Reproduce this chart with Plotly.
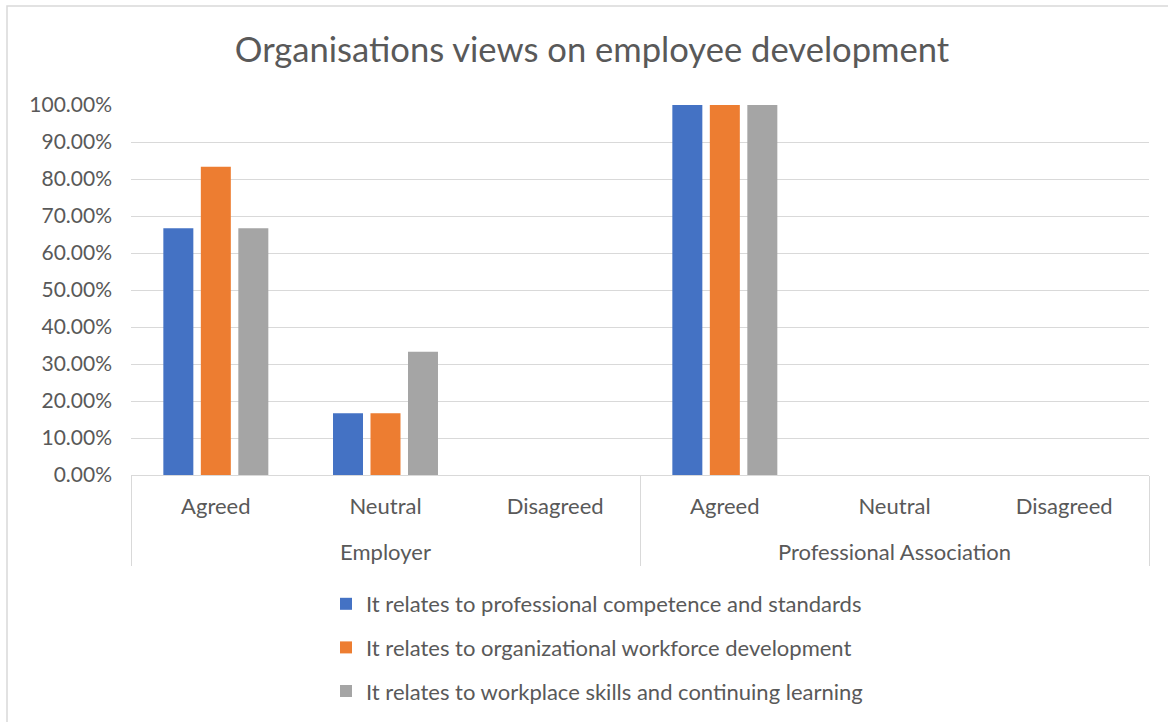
import plotly.graph_objects as go

# Response data: share of organisations per view, by organisation type
org_types = ["Employer"] * 3 + ["Professional Association"] * 3
responses = ["Agreed", "Neutral", "Disagreed"] * 2

series_names = [
    "It relates to professional competence and standards",
    "It relates to organizational workforce development",
    "It relates to workplace skills and continuing learning",
]
competence = [0.6667, 0.1667, 0.0, 1.0, 0.0, 0.0]
workforce = [0.8333, 0.1667, 0.0, 1.0, 0.0, 0.0]
workplace = [0.6667, 0.3333, 0.0, 1.0, 0.0, 0.0]
colors = ["#4472C4", "#ED7D31", "#A5A5A5"]

W, H = 1168, 722
L, R, T, B = 131, 19, 105, 247
FONT = "Lato"
TXT = "#595959"

# outer-level labels start with an empty line so they sit lower under the inner labels
outer_labels = [f"<br>{o}" for o in org_types]

fig = go.Figure()
for i, (name, vals) in enumerate(zip(series_names, [competence, workforce, workplace])):
    fig.add_trace(go.Bar(
        x=[outer_labels, responses],
        y=vals,
        name=name,
        legendgroup=f"g{i}",
        marker=dict(color=colors[i], line=dict(width=0)),
    ))

pw, ph = W - L - R, H - T - B

def px_x(px):
    return (px - L) / pw

def px_y(py):
    return (H - B - py) / ph

fig.update_layout(
    width=W, height=H,
    margin=dict(l=L, r=R, t=T, b=B, autoexpand=False),
    paper_bgcolor="white", plot_bgcolor="white",
    barmode="group", bargap=0.337, bargroupgap=0.2,
    font=dict(family=FONT, color=TXT, size=21),
    title=dict(
        text="Organisations views on employee development",
        x=592 / W, xref="container", xanchor="center",
        y=1 - 50 / H, yref="container", yanchor="middle",
        font=dict(family=FONT, size=34.6, color=TXT),
    ),
    xaxis=dict(
        type="multicategory",
        showline=True, linecolor="#D9D9D9", linewidth=1,
        showdividers=True, dividercolor="#D9D9D9", dividerwidth=1,
        ticks="", ticklabelstandoff=12,
        tickfont=dict(size=22, color=TXT),
        showgrid=False,
    ),
    yaxis=dict(
        range=[0, 1], dtick=0.1, tickformat=".2%",
        showgrid=True, gridcolor="#D9D9D9", gridwidth=1,
        zeroline=False, showline=False, ticks="",
        ticklabelstandoff=18,
        tickfont=dict(size=21, color=TXT),
    ),
    legend=dict(
        orientation="v", x=px_x(597), xanchor="center",
        y=px_y(583), yanchor="top",
        font=dict(size=22, color=TXT),
        tracegroupgap=12, itemwidth=30,
        bgcolor="rgba(0,0,0,0)",
    ),
    shapes=[
        # chart area frame
        dict(type="rect", xref="paper", yref="paper",
             x0=px_x(7), x1=px_x(1175), y0=px_y(6), y1=px_y(730),
             line=dict(color="#D9D9D9", width=1.5), fillcolor="rgba(0,0,0,0)",
             layer="below"),
    ],
)

fig.write_html("out.html")
